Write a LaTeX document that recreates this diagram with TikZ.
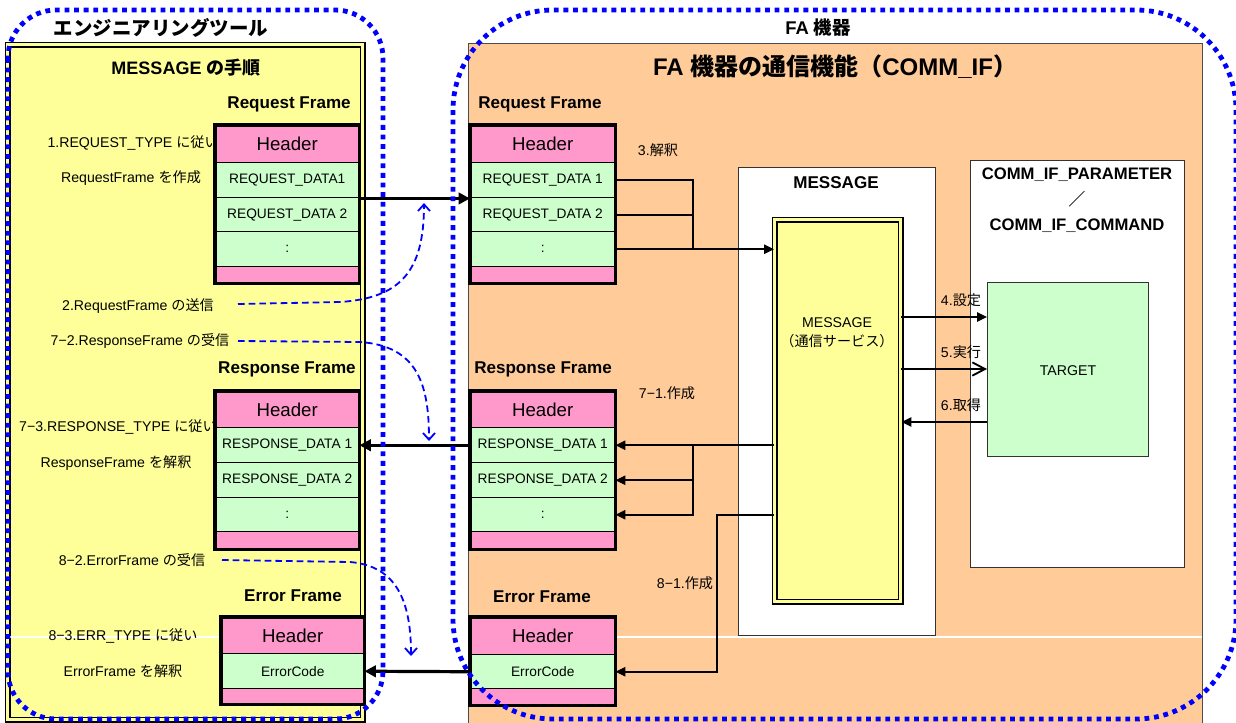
\documentclass[tikz,border=0pt]{standalone}
\usepackage{fontspec}
\setmainfont{Liberation Sans}
\newfontfamily\jp{Noto Sans CJK JP}
\usetikzlibrary{arrows.meta}
\definecolor{pk}{HTML}{FF99CC}
\definecolor{gr}{HTML}{CCFFCC}
\definecolor{ye}{HTML}{FFFF99}
\definecolor{pe}{HTML}{FFCC99}
\definecolor{bl}{HTML}{0000FF}
\def\px{0.75pt}
\newcommand\hdr{\fontsize{14pt}{16pt}\selectfont}
\newcommand\fcell[7]{\node[cell,fill=#2,minimum width=#5*\px,minimum height=#6*\px,anchor=north west] (#1) at (#3,#4) {#7};}
\newcommand\panelbox[5]{\node[draw=black!80,line width=1.1pt,fill=#2,minimum width=#4*\px,minimum height=#5*\px,anchor=north west,inner sep=0pt] (#1) at (#3) {};}
\begin{document}
\begin{tikzpicture}[x=0.75pt,y=-0.75pt,
  cell/.style={draw=black,line width=1.1pt,inner sep=0pt,font=\fontsize{10.3pt}{12pt}\selectfont},
  frm/.style={draw=black,line width=2.6pt},
  lbl/.style={inner sep=0pt,font=\fontsize{10.6pt}{12pt}\selectfont},
  ttl/.style={inner sep=0pt,font=\bfseries\fontsize{12.8pt}{15pt}\selectfont},
  conn/.style={draw=black,line width=1.4pt},
  tip/.style={-{Triangle[length=7.5pt,width=7pt]}},
  thk/.style={draw=black,line width=2.4pt,-{Triangle[length=8.5pt,width=8.5pt]}},
  bdash/.style={draw=bl,line width=1.35pt,dash pattern=on 5pt off 3pt,-{Straight Barb[length=5pt,width=9pt]}},
  bdot/.style={draw=bl,line width=3.6pt,dash pattern=on 3.6pt off 3.6pt}]
\useasboundingbox (0,0) rectangle (1236,722);

% ---------- panels ----------
\node[draw=black,line width=1.1pt,double=ye,double distance=2.4pt,fill=ye,
      minimum width=355*\px,minimum height=675*\px,anchor=north west,inner sep=0pt] (lp) at (7,44) {};
\node[draw=black!70,line width=0.8pt,fill=pe,minimum width=734*\px,minimum height=700*\px,
      anchor=north west,inner sep=0pt] (fa) at (468,43) {};
\draw[white,line width=0.8pt] (10,637) -- (360,637);
\draw[white,line width=0.8pt] (468,637) -- (1202,637);

\panelbox{mbox}{white}{738,167}{197}{468}
\panelbox{cbox}{white}{970,160}{214}{407}
\panelbox{tgt}{gr}{987,282}{161}{174}
\node[draw=black,line width=1.1pt,double=ye,double distance=2.4pt,fill=ye,
      minimum width=126*\px,minimum height=382*\px,anchor=north west,inner sep=0pt] (msg) at (774,219) {};

% ---------- titles ----------
\node[inner sep=0pt,font=\bfseries\fontsize{14.6pt}{17pt}\selectfont] (ttlL) at (161,28) {\jp エンジニアリングツール};
\node[inner sep=0pt,font=\bfseries\fontsize{13.8pt}{17pt}\selectfont] (ttlR) at (818,28) {FA {\jp 機器}};
\node[inner sep=0pt,font=\bfseries\fontsize{13.5pt}{16pt}\selectfont] (ttlM) at (186,68) {MESSAGE {\jp の手順}};
\node[inner sep=0pt,font=\bfseries\fontsize{18pt}{21pt}\selectfont] (ttlF) at (835,67) {FA {\jp 機器の通信機能（}COMM\_IF{\jp ）}};

\node[ttl,anchor=east] (tlq) at (351,104) {Request Frame};
\node[ttl,anchor=east] (tls) at (356,369) {Response Frame};
\node[ttl] (tle) at (293,596) {Error Frame};
\node[ttl,anchor=west] (trq) at (478,104) {Request Frame};
\node[ttl,anchor=west] (trs) at (474,369) {Response Frame};
\node[ttl] (tre) at (542,597) {Error Frame};
\node[ttl] (tmsg) at (836,183) {MESSAGE};
\node[ttl,font=\bfseries\fontsize{12.5pt}{15pt}\selectfont] (tcp) at (1077,175) {COMM\_IF\_PARAMETER};
\node[ttl,font=\bfseries\fontsize{12.5pt}{15pt}\selectfont] (tsl) at (1077,199) {\jp ／};
\node[ttl,font=\bfseries\fontsize{12.5pt}{15pt}\selectfont] (tcc) at (1077,226) {COMM\_IF\_COMMAND};

% ---------- left labels ----------
\node[lbl,anchor=east] (l1) at (219,143) {1.REQUEST\_TYPE {\jp に従い}};
\node[lbl] (l1b) at (131,178) {RequestFrame {\jp を作成}};
\node[lbl] (l2) at (138,306) {2.RequestFrame {\jp の送信}};
\node[lbl] (l72) at (140,341) {7−2.ResponseFrame {\jp の受信}};
\node[lbl,anchor=east] (l73) at (217,427) {7−3.RESPONSE\_TYPE {\jp に従い}};
\node[lbl] (l73b) at (116,463) {ResponseFrame {\jp を解釈}};
\node[lbl] (l82) at (132,560) {8−2.ErrorFrame {\jp の受信}};
\node[lbl] (l83) at (123,636) {8−3.ERR\_TYPE {\jp に従い}};
\node[lbl] (l83b) at (123,671) {ErrorFrame {\jp を解釈}};

% ---------- right labels ----------
\node[lbl] (r3) at (658,150) {3.{\jp 解釈}};
\node[lbl] (r71) at (667,393) {7−1.{\jp 作成}};
\node[lbl] (r81) at (685,583) {8−1.{\jp 作成}};
\node[lbl] (r4) at (961,300) {4.{\jp 設定}};
\node[lbl] (r5) at (961,352) {5.{\jp 実行}};
\node[lbl] (r6) at (961,405) {6.{\jp 取得}};
\node[lbl] (m1) at (837,323) {MESSAGE};
\node[lbl] (m2) at (837,341) {\jp （通信サービス）};
\node[lbl] (ttg) at (1068,371) {TARGET};

% ---------- frames ----------
\fcell{lq1}{pk}{215}{125}{143}{37}{\hdr Header}
\fcell{lq2}{gr}{215}{162}{143}{35}{REQUEST\_DATA1}
\fcell{lq3}{gr}{215}{197}{143}{34}{REQUEST\_DATA 2}
\fcell{lq4}{gr}{215}{231}{143}{35}{:}
\fcell{lq5}{pk}{215}{266}{143}{16}{}
\draw[frm] (lq1.north west) rectangle (lq5.south east);

\fcell{rq1}{pk}{470}{125}{144}{37}{\hdr Header}
\fcell{rq2}{gr}{470}{162}{144}{35}{REQUEST\_DATA 1}
\fcell{rq3}{gr}{470}{197}{144}{34}{REQUEST\_DATA 2}
\fcell{rq4}{gr}{470}{231}{144}{35}{:}
\fcell{rq5}{pk}{470}{266}{144}{16}{}
\draw[frm] (rq1.north west) rectangle (rq5.south east);

\fcell{ls1}{pk}{215}{391}{143}{36}{\hdr Header}
\fcell{ls2}{gr}{215}{427}{143}{35}{RESPONSE\_DATA 1}
\fcell{ls3}{gr}{215}{462}{143}{35}{RESPONSE\_DATA 2}
\fcell{ls4}{gr}{215}{497}{143}{34}{:}
\fcell{ls5}{pk}{215}{531}{143}{17}{}
\draw[frm] (ls1.north west) rectangle (ls5.south east);

\fcell{rs1}{pk}{470}{391}{144}{36}{\hdr Header}
\fcell{rs2}{gr}{470}{427}{144}{35}{RESPONSE\_DATA 1}
\fcell{rs3}{gr}{470}{462}{144}{35}{RESPONSE\_DATA 2}
\fcell{rs4}{gr}{470}{497}{144}{34}{:}
\fcell{rs5}{pk}{470}{531}{144}{17}{}
\draw[frm] (rs1.north west) rectangle (rs5.south east);

\fcell{le1}{pk}{221}{617}{142}{36}{\hdr Header}
\fcell{le2}{gr}{221}{653}{142}{35}{ErrorCode}
\fcell{le3}{pk}{221}{688}{142}{15}{}
\draw[frm] (le1.north west) rectangle (le3.south east);

\fcell{re1}{pk}{470}{617}{144}{37}{\hdr Header}
\fcell{re2}{gr}{470}{654}{144}{34}{ErrorCode}
\fcell{re3}{pk}{470}{688}{144}{16}{}
\draw[frm] (re1.north west) rectangle (re3.south east);

% ---------- connectors ----------
\coordinate (jx) at (693,0);
\draw[conn] (rq2.east) -| (jx |- rq4.east);
\draw[conn] (rq3.east) -- (jx |- rq3.east);
\draw[conn,tip] (rq4.east) -- (msg.west |- rq4.east);

\draw[conn,tip] (msg.west |- rs2.east) -- (rs2.east);
\draw[conn,tip] (jx |- rs2.east) |- (rs3.east);
\draw[conn,tip] (jx |- rs2.east) |- (rs4.east);

\coordinate (j3) at (717,515);
\draw[conn,tip] (msg.west |- j3) -- (j3) |- (re2.east);

\coordinate (a4) at (0,317);
\coordinate (a5) at (0,369);
\coordinate (a6) at (0,422);
\draw[conn,tip] (msg.east |- a4) -- (tgt.west |- a4);
\draw[conn,-{Straight Barb[length=9.5pt,width=10pt]}] (msg.east |- a5) -- (tgt.west |- a5);
\draw[conn,tip] (tgt.west |- a6) -- (msg.east |- a6);

\draw[thk] (lq2.south east) -- (rq2.south west);
\draw[thk] (rs2.west) -- (ls2.east);
\draw[thk] (re2.west) -- (le2.east);

% ---------- blue dashed curves ----------
\coordinate (s2) at (238,304);
\coordinate (s72) at (238,341);
\coordinate (s82) at (222,560);
\coordinate (e2) at (424,203);
\coordinate (e72) at (429,441);
\coordinate (e82) at (411,656);
\draw[bdash] (s2) -- (340,302) .. controls (400,298) and (424,272) .. (e2);
\draw[bdash] (s72) -- (360,342) .. controls (418,346) and (429,385) .. (e72);
\draw[bdash] (s82) -- (350,562) .. controls (396,566) and (411,600) .. (e82);

% ---------- blue dotted groups ----------
\draw[bdot,rounded corners=36pt] (8,10) rectangle (383,719);
\draw[bdot,rounded corners=75pt] (453,10) rectangle (1236,719);
\end{tikzpicture}
\end{document}
